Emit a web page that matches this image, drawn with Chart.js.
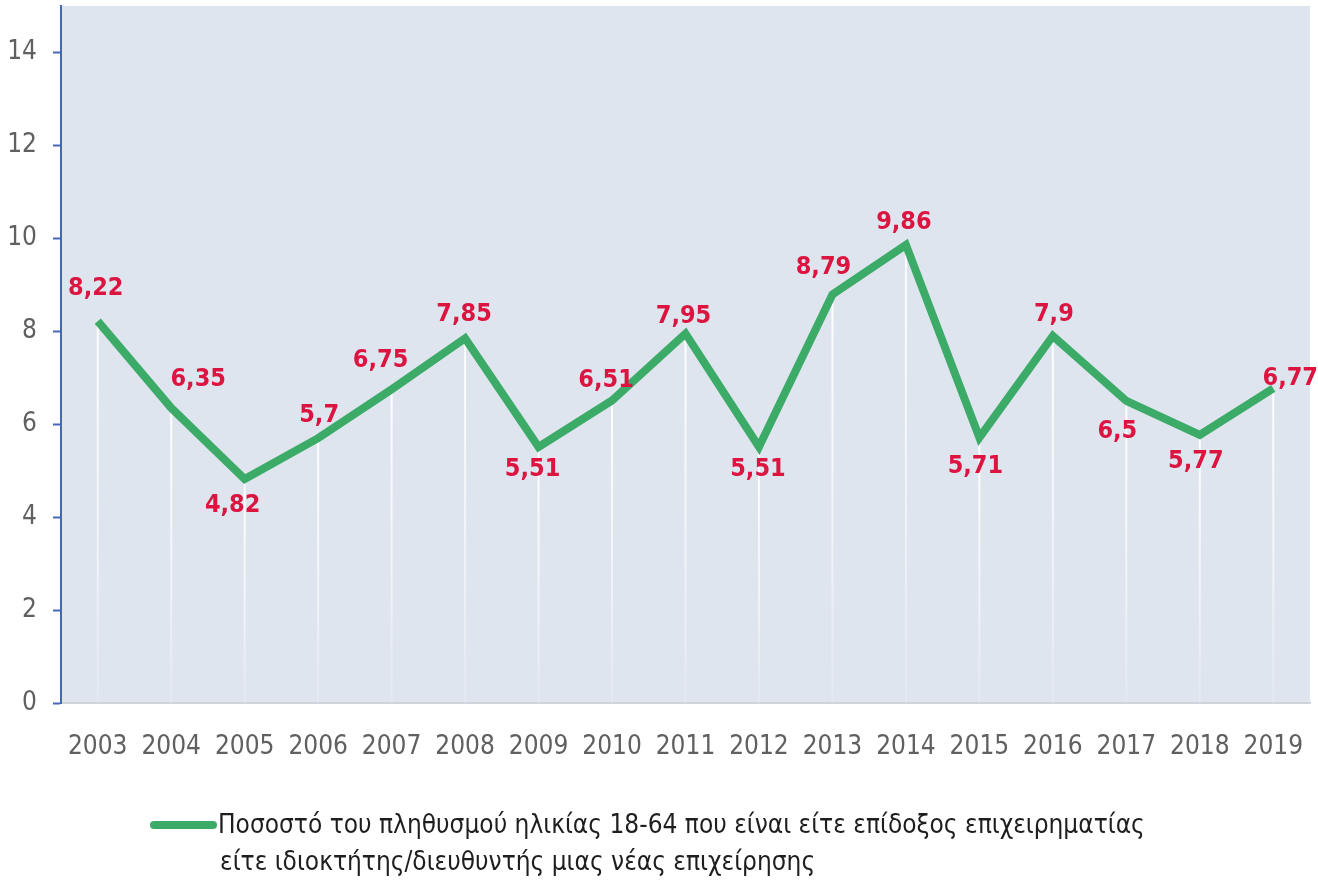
<!DOCTYPE html>
<html>
<head>
<meta charset="utf-8">
<script src="https://cdn.jsdelivr.net/npm/chart.js@4.4.1/dist/chart.umd.min.js"></script>
<style>
  html, body { margin: 0; padding: 0; background: #ffffff; }
  #wrap { width: 1318px; height: 885px; position: relative; }
</style>
</head>
<body>
<div id="wrap"><canvas id="c" width="1318" height="885"></canvas></div>
<script>
// ---- data ----
const years = ['2003','2004','2005','2006','2007','2008','2009','2010','2011','2012','2013','2014','2015','2016','2017','2018','2019'];
const rates = [8.22, 6.35, 4.82, 5.7, 6.75, 7.85, 5.51, 6.51, 7.95, 5.51, 8.79, 9.86, 5.71, 7.9, 6.5, 5.77, 6.77];
const yTickValues = [0, 2, 4, 6, 8, 10, 12, 14];
const seriesLabel = ['Ποσοστό του πληθυσμού ηλικίας 18-64 που είναι είτε επίδοξος επιχειρηματίας',
                     'είτε ιδιοκτήτης/διευθυντής μιας νέας επιχείρησης'];

// ---- styles ----
const GREEN = '#3dab68';
const RED = '#dc1440';
const BLUE = '#4568b2';
const PLOT_BG = '#dee5ef';
const FONT = '"Liberation Sans Narrow", "DejaVu Sans Condensed", "Roboto", sans-serif';
// label offsets (dx, dy) relative to each point
const labelOffsets = [
  [-2,-33],[27,-28],[-12,26],[1,-23],[-11,-29],[-1,-24],[-6,23],[-6,-20],[-2,-17],
  [-1,23],[-9,-27],[-2,-22],[-4,29],[1,-21],[-9,31],[-4,27],[17,-10]
];

const bgPlugin = {
  id: 'plotBg',
  beforeDraw(chart) {
    const {ctx, chartArea: a} = chart;
    ctx.save();
    ctx.fillStyle = PLOT_BG;
    ctx.fillRect(a.left, a.top, a.right - a.left, a.bottom - a.top);
    ctx.restore();
  },
  beforeDatasetsDraw(chart) {
    const {ctx, chartArea: a} = chart;
    const meta = chart.getDatasetMeta(0);
    ctx.save();
    meta.data.forEach(pt => {
      const g = ctx.createLinearGradient(0, pt.y, 0, a.bottom);
      g.addColorStop(0, 'rgba(255,255,255,0.95)');
      g.addColorStop(0.6, 'rgba(255,255,255,0.55)');
      g.addColorStop(1, 'rgba(255,255,255,0.15)');
      ctx.strokeStyle = g;
      ctx.lineWidth = 2;
      ctx.beginPath();
      ctx.moveTo(pt.x, pt.y);
      ctx.lineTo(pt.x, a.bottom);
      ctx.stroke();
    });
    ctx.restore();
  }
};

const labelPlugin = {
  id: 'valueLabels',
  afterDatasetsDraw(chart) {
    const {ctx} = chart;
    const meta = chart.getDatasetMeta(0);
    const data = chart.data.datasets[0].data;
    ctx.save();
    ctx.font = 'bold 25px ' + FONT;
    ctx.fillStyle = RED;
    ctx.textAlign = 'center';
    ctx.textBaseline = 'middle';
    meta.data.forEach((pt, i) => {
      const off = labelOffsets[i] || [0, -24];
      ctx.fillText(String(data[i]).replace('.', ','), pt.x + off[0], pt.y + off[1]);
    });
    ctx.restore();
  }
};

const legendPlugin = {
  id: 'customLegend',
  afterDraw(chart) {
    const {ctx} = chart;
    ctx.save();
    ctx.strokeStyle = GREEN;
    ctx.lineWidth = 8;
    ctx.lineCap = 'round';
    ctx.beginPath();
    ctx.moveTo(154, 825);
    ctx.lineTo(213, 825);
    ctx.stroke();
    ctx.font = '26px ' + FONT;
    ctx.fillStyle = '#1e1e1e';
    ctx.textAlign = 'left';
    ctx.textBaseline = 'middle';
    ctx.fillText(seriesLabel[0], 218, 826);
    ctx.fillText(seriesLabel[1], 220, 863);
    ctx.restore();
  }
};

new Chart(document.getElementById('c'), {
  type: 'line',
  data: {
    labels: years,
    datasets: [{
      label: seriesLabel.join(' '),
      data: rates,
      borderColor: GREEN,
      borderWidth: 8,
      pointRadius: 0,
      pointHoverRadius: 0,
      tension: 0,
      fill: false,
      borderJoinStyle: 'miter'
    }]
  },
  options: {
    responsive: false,
    animation: false,
    devicePixelRatio: 1,
    layout: { padding: { top: 6, right: 8, left: 0, bottom: 0 } },
    plugins: { legend: { display: false }, tooltip: { enabled: false } },
    scales: {
      x: {
        offset: true,
        grid: { display: true, drawOnChartArea: false, drawTicks: false },
        border: { display: true, color: '#cfd4da', width: 2 },
        ticks: { color: '#606060', font: { family: FONT, size: 26 }, padding: 29, maxRotation: 0, autoSkip: false },
        afterFit(scale) { scale.height = 182; scale.paddingLeft = 0; scale.paddingRight = 0; }
      },
      y: {
        min: 0,
        max: 15,
        afterBuildTicks(scale) { scale.ticks = yTickValues.map(v => ({ value: v })); },
        grid: { drawOnChartArea: false, drawTicks: true, tickLength: 8, tickColor: BLUE, tickWidth: 2 },
        border: { display: true, color: BLUE, width: 2 },
        ticks: { color: '#606060', font: { family: FONT, size: 26 }, padding: 16,
                 callback: v => String(v) },
        afterFit(scale) { scale.width = 61; scale.paddingTop = 0; scale.paddingBottom = 0; }
      }
    }
  },
  plugins: [bgPlugin, labelPlugin, legendPlugin]
});
</script>
</body>
</html>
